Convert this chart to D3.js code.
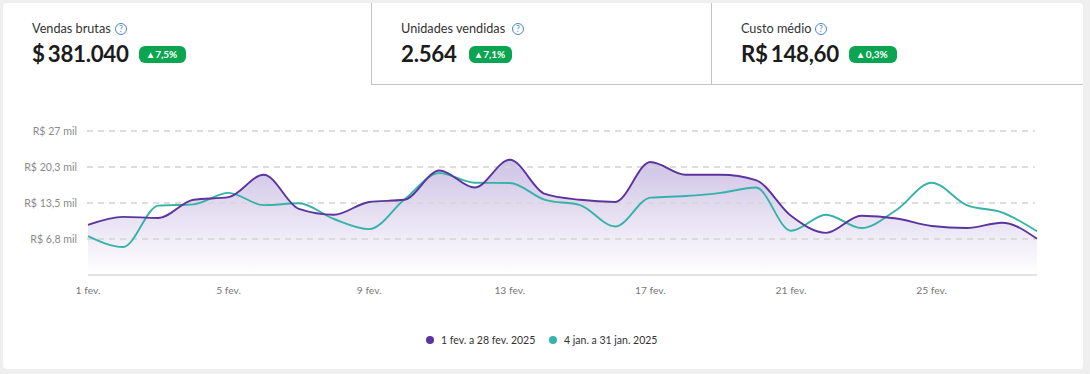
<!DOCTYPE html>
<html><head><meta charset="utf-8">
<script src="https://cdn.jsdelivr.net/npm/d3@7"></script>
<style>
html,body{margin:0;padding:0;background:#efefef;width:1090px;height:374px;overflow:hidden}
svg{display:block;font-family:Lato,sans-serif}
</style></head><body><svg id="c" width="1090" height="374"></svg>
<script>
const days = d3.range(1, 29);
const currentSales = [9.4,10.9,10.7,14.1,14.6,18.8,12.4,11.3,13.7,14.1,19.6,16.4,21.6,15.2,14.1,13.7,21.2,18.8,18.8,17.8,11.1,7.9,11.1,10.6,9.2,8.8,9.8,6.8];
const previousSales = [7.3,5.25,13.0,13.25,15.4,13.1,13.45,10.5,8.6,14.15,19.1,17.3,17.25,14.1,13.1,9.1,14.5,14.8,15.4,16.4,8.3,11.3,8.8,12.2,17.3,13.1,11.75,8.2];
const yTickValues = [6.75,13.5,20.25,27];
const yTickLabels = ["R$ 6,8 mil","R$ 13,5 mil","R$ 20,3 mil","R$ 27 mil"];
const xTickDays = [1,5,9,13,17,21,25];
const legendLabels = ["1 fev. a 28 fev. 2025","4 jan. a 31 jan. 2025"];
const seriesColors = ["#5b349e","#36b3a8"];
const kpiTitles = ["Vendas brutas","Unidades vendidas","Custo médio"];
const kpiValues = ["$ 381.040","2.564","R$ 148,60"];
const kpiDeltas = ["7,5%","7,1%","0,3%"];
const kpiX = [32,401,741];
const kpiBadgeX = [139,469,849];
const kpiBadgeW = [47,43,48];
const kpiHelpX = [121,518,821];

const svg = d3.select("#c");
const x = d3.scaleLinear().domain([1,28]).range([88,1037]);
const y = d3.scaleLinear().domain([0,27]).range([275,131]);

const defs = svg.append("defs");
const g = defs.append("linearGradient").attr("id","fade").attr("x1",0).attr("y1",0).attr("x2",0).attr("y2",1);
g.append("stop").attr("offset",0).attr("stop-color","#cfc3e6");
g.append("stop").attr("offset",1).attr("stop-color","#ffffff");

// card
svg.append("rect").attr("x",3).attr("y",3).attr("width",1080).attr("height",366).attr("rx",4).attr("fill","#fff");

// tab borders
const borderC = "#c4c4c4";
[[371,3,371,84.5],[711,3,711,84.5],[371,84.5,1083,84.5]].forEach(l=>{
  svg.append("line").attr("x1",l[0]+(l[0]===l[2]?.5:0)).attr("y1",l[1]).attr("x2",l[2]+(l[0]===l[2]?.5:0)).attr("y2",l[3]).attr("stroke",borderC);
});

// KPI
kpiTitles.forEach((t,i)=>{
  const k = svg.append("g");
  k.append("text").attr("x",kpiX[i]).attr("y",33).attr("font-size",12.7).attr("fill","#333").text(t);
  const h = k.append("g").attr("transform",`translate(${kpiHelpX[i]},29)`);
  h.append("circle").attr("r",5.5).attr("fill","none").attr("stroke","#4a86d0").attr("stroke-width",1);
  h.append("text").attr("y",3).attr("text-anchor","middle").attr("font-size",8.5).attr("fill","#4a86d0").text("?");
  k.append("text").attr("x",kpiX[i]).attr("y",62).attr("font-size",22.3).attr("font-weight",700).attr("letter-spacing",-0.3).attr("word-spacing",-2).attr("fill","#1c1c1c").text(kpiValues[i]);
  k.append("rect").attr("x",kpiBadgeX[i]).attr("y",46).attr("width",kpiBadgeW[i]).attr("height",17).attr("rx",6).attr("fill","#0ba552");
  k.append("text").attr("x",kpiBadgeX[i]+kpiBadgeW[i]/2).attr("y",58).attr("text-anchor","middle").attr("font-size",10).attr("font-weight",700).attr("fill","#fff")
    .text("▴ "+kpiDeltas[i]);
});

// area
const curve = d3.curveMonotoneX;
const area = d3.area().x((d,i)=>x(days[i])).y0(y(0)).y1(d=>y(d)).curve(curve);
const line = d3.line().x((d,i)=>x(days[i])).y(d=>y(d)).curve(curve);
svg.append("path").attr("d",area(currentSales)).attr("fill","url(#fade)");

// grid + y labels
yTickValues.forEach((v,i)=>{
  svg.append("line").attr("x1",87).attr("x2",1035).attr("y1",y(v)).attr("y2",y(v))
    .attr("stroke","#d9d6d6").attr("stroke-width",2).attr("stroke-dasharray","6 5").attr("opacity",.85);
  svg.append("text").attr("x",77).attr("y",y(v)+3.5).attr("text-anchor","end").attr("font-size",10.6).attr("fill","#8a8a8a").text(yTickLabels[i]);
});

// lines
svg.append("line").attr("x1",88).attr("x2",1037).attr("y1",275).attr("y2",275).attr("stroke","#e3e3e3").attr("stroke-width",2);
svg.append("path").attr("d",line(previousSales)).attr("fill","none").attr("stroke",seriesColors[1]).attr("stroke-width",1.9);
svg.append("path").attr("d",line(currentSales)).attr("fill","none").attr("stroke",seriesColors[0]).attr("stroke-width",1.9);

// x axis labels
xTickDays.forEach(d=>{
  svg.append("text").attr("x",x(d)).attr("y",294).attr("text-anchor","middle").attr("font-size",10.3).attr("fill","#777").text(d+" fev.");
});

// legend
const legX=[430,553];
legendLabels.forEach((t,i)=>{
  svg.append("circle").attr("cx",legX[i]).attr("cy",340).attr("r",4).attr("fill",seriesColors[i]);
  svg.append("text").attr("x",legX[i]+11).attr("y",343.7).attr("font-size",10.5).attr("fill","#333").text(t);
});
</script></body></html>
